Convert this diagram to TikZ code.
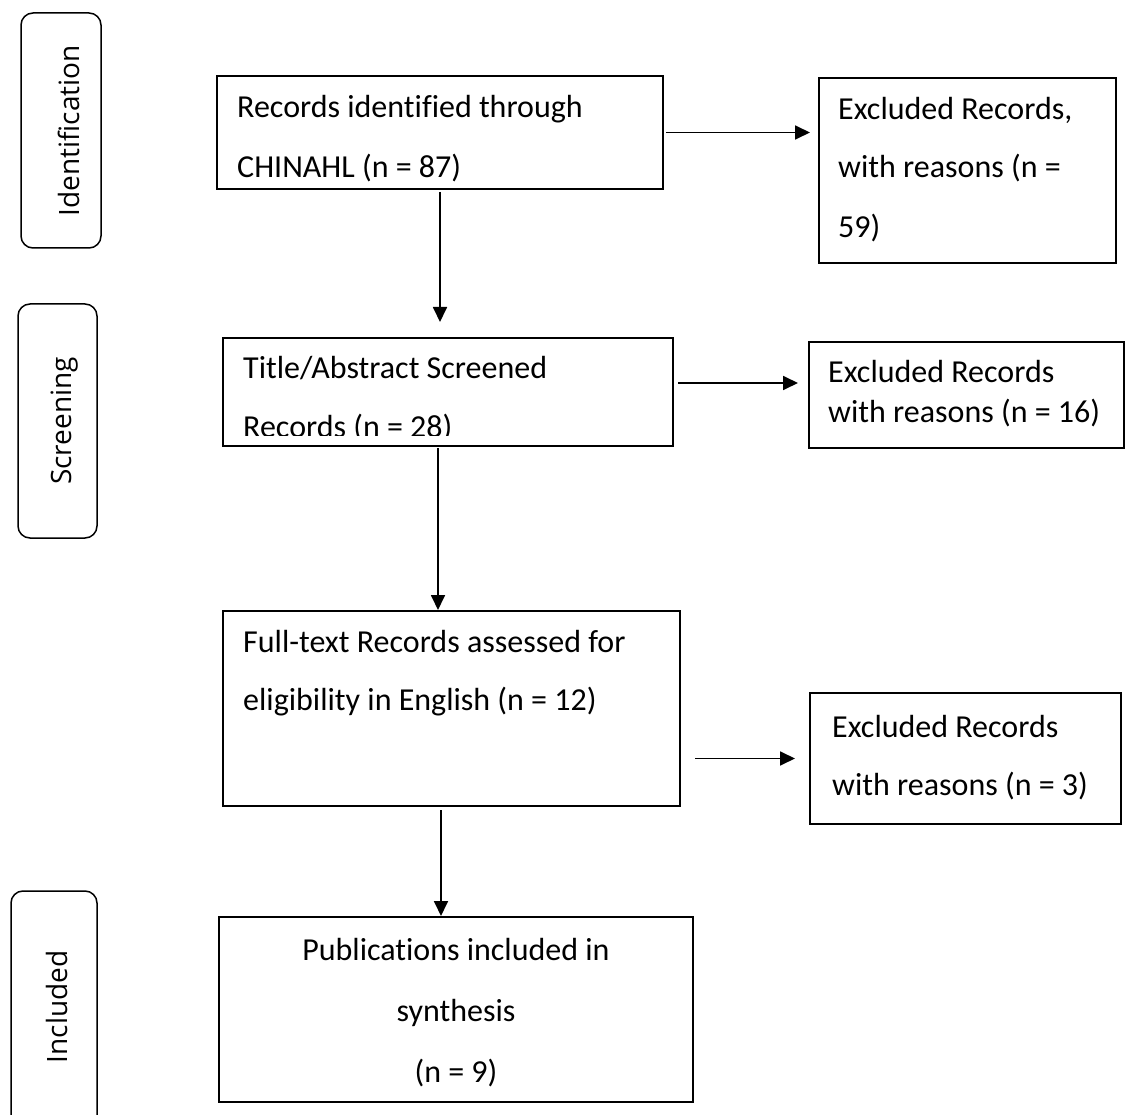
\documentclass[tikz,border=0pt]{standalone}
\usepackage{fontspec}
\setmainfont{Carlito}[Ligatures=NoCommon]
\newfontfamily\labfont{Open Sans}[Ligatures=NoCommon]
\usetikzlibrary{arrows.meta}
\begin{document}
\begin{tikzpicture}[x=1pt,y=-1pt,
  box/.style={draw, line width=2pt, inner sep=0pt, rectangle},
  lbox/.style={draw, line width=1.5pt, rounded corners=12pt, inner sep=0pt, rectangle},
  txt/.style={inner sep=0pt, anchor=base west, font=\fontsize{32}{38}\selectfont},
  ctxt/.style={txt, anchor=base},
  ltxt/.style={inner sep=0pt, anchor=base, rotate=90, font=\labfont\fontsize{28}{32}\selectfont},
  arr/.style={line width=1.8pt, -{Triangle[length=15pt,width=14pt]}}]
\clip (0,0) rectangle (1128,1115);
\fill[white] (0,0) rectangle (1128,1115);

% stage labels
\node[lbox, minimum width=80pt, minimum height=235pt] (idb) at (61,130.5) {};
\node[lbox, minimum width=79pt, minimum height=234pt] (scb) at (57.5,421) {};
\node[lbox, minimum width=86pt, minimum height=240pt] (inb) at (54,1011) {};
\node[ltxt] (idt) at (79,131) {Identification};
\node[ltxt] (sct) at (71,421) {Screening};
\node[ltxt] (inct) at (67,1007) {Included};

% boxes
\node[box, minimum width=446pt, minimum height=113pt] (rec) at (440,132.5) {};
\node[box, minimum width=297pt, minimum height=185pt] (exc1) at (967.5,170.5) {};
\node[box, minimum width=450pt, minimum height=108pt] (tit) at (448,392) {};
\node[box, minimum width=315pt, minimum height=106pt] (exc2) at (966.5,395) {};
\node[box, minimum width=457pt, minimum height=195pt] (full) at (451.5,708.5) {};
\node[box, minimum width=311pt, minimum height=131pt] (exc3) at (965.5,758.5) {};
\node[box, minimum width=474pt, minimum height=185pt] (pub) at (456,1009.5) {};

% texts
\node[txt] (rec1) at (237,118) {Records identified through};
\node[txt] (rec2) at (237,178) {CHINAHL (n = 87)};
\node[txt] (ex11) at (838,120) {Excluded Records,};
\node[txt] (ex12) at (838,178) {with reasons (n =};
\node[txt] (ex13) at (838,238) {59)};
\begin{scope}
\clip (223,338) rectangle (673,436);
\node[txt] (tit1) at (243,379) {Title/Abstract Screened};
\node[txt] (tit2) at (243,437) {Records (n = 28)};
\end{scope}
\node[txt] (ex21) at (828,383) {Excluded Records};
\node[txt] (ex22) at (828,422) {with reasons (n = 16)};
\node[txt] (ful1) at (243,652) {Full-text Records assessed for};
\node[txt] (ful2) at (243,710) {eligibility in English (n = 12)};
\node[txt] (ex31) at (832,737) {Excluded Records};
\node[txt] (ex32) at (832,795) {with reasons (n = 3)};
\node[ctxt] (pub1) at (456,960) {Publications included in};
\node[ctxt] (pub2) at (456,1021) {synthesis};
\node[ctxt] (pub3) at (456,1082) {(n = 9)};

% connectors
\draw[arr, shorten <=2pt, shorten >=8pt] (rec.east) -- (rec.east -| exc1.west);
\draw[arr, shorten <=2pt, shorten >=15pt] (rec.south) -- (rec.south |- tit.north);
\draw[arr, shorten <=4pt, shorten >=10pt] ([yshift=9pt]tit.east) -- ([yshift=9pt]tit.east -| exc2.west);
\draw[arr, shorten <=1pt] ([xshift=-10pt]tit.south) -- ([xshift=-10pt]tit.south |- full.north);
\draw[arr, shorten <=14pt, shorten >=14pt] (exc3.west -| full.east) -- (exc3.west);
\draw[arr, shorten <=3pt] ([xshift=-10.5pt]full.south) -- ([xshift=-10.5pt]full.south |- pub.north);
\end{tikzpicture}
\end{document}
